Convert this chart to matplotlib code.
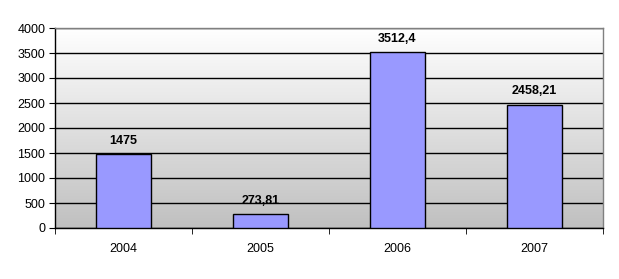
import matplotlib
matplotlib.use("Agg")
import matplotlib.pyplot as plt
import numpy as np

years = ["2004", "2005", "2006", "2007"]
values = [1475, 273.81, 3512.4, 2458.21]
labels = ["1475", "273,81", "3512,4", "2458,21"]
yticks = [0, 500, 1000, 1500, 2000, 2500, 3000, 3500, 4000]

plt.rcParams['font.family'] = ['Liberation Sans', 'DejaVu Sans']

fig = plt.figure(figsize=(6.19, 2.79), dpi=100)
W, H = 619, 279
ax = fig.add_axes([55 / W, (H - 228) / H, (603 - 55) / W, (228 - 28) / H])

# gradient background
grad = np.linspace(0, 1, 256).reshape(-1, 1)
ax.imshow(grad, extent=[0, 1, 0, 1], transform=ax.transAxes, aspect='auto',
          cmap=matplotlib.colors.LinearSegmentedColormap.from_list('g', ['#c0c0c0', '#ffffff']),
          origin='lower', zorder=0)

x = np.arange(len(years))
ax.bar(x, values, width=0.4, color='#9999ff', edgecolor='black', linewidth=1.0, zorder=3)

for i, (v, lab) in enumerate(zip(values, labels)):
    ax.annotate(lab, (i, v), xytext=(0, 5.5), textcoords='offset points',
                ha='center', va='bottom', fontsize=9, fontweight='bold', zorder=5)

ax.set_xlim(-0.5, 3.5)
ax.set_ylim(0, 4000)
ax.set_yticks(yticks)
ax.set_yticklabels([str(t) for t in yticks], fontsize=9)
ax.yaxis.grid(True, color='black', linewidth=1.0, zorder=1)
ax.set_axisbelow(True)

ax.set_xticks(x)
ax.set_xticklabels(years, fontsize=9)
ax.set_xticks([-0.5, 0.5, 1.5, 2.5, 3.5], minor=True)
ax.tick_params(axis='x', which='major', length=0, pad=11)
ax.tick_params(axis='x', which='minor', length=4, direction='out', color='black')
ax.tick_params(axis='y', length=4, direction='out', color='black', pad=3)

ax.spines['top'].set_color('#808080')
ax.spines['right'].set_color('#808080')
ax.spines['left'].set_color('black')
ax.spines['bottom'].set_color('black')
for s in ax.spines.values():
    s.set_linewidth(1.0)

fig.savefig('out.png', dpi=100)
